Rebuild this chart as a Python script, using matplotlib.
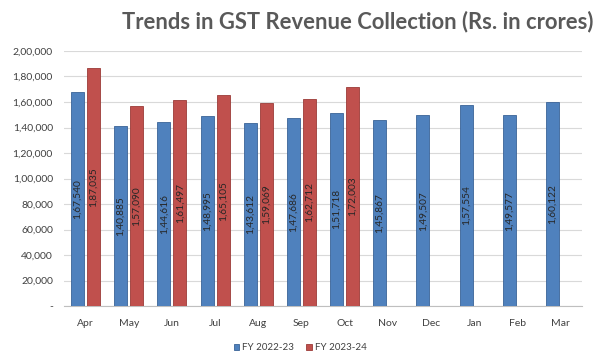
import matplotlib
matplotlib.use("Agg")
import matplotlib.pyplot as plt
import numpy as np

months = ["Apr", "May", "Jun", "Jul", "Aug", "Sep", "Oct", "Nov", "Dec", "Jan", "Feb", "Mar"]
fy2223 = [167540, 140885, 144616, 148995, 143612, 147686, 151718, 145867, 149507, 157554, 149577, 160122]
fy2324 = [187035, 157090, 161497, 165105, 159069, 162712, 172003]
fy2223_labels = ["1,67,540", "1,40,885", "1,44,616", "1,48,995", "1,43,612", "1,47,686", "1,51,718",
                 "1,45,867", "1,49,507", "1,57,554", "1,49,577", "1,60,122"]
fy2324_labels = ["1,87,035", "1,57,090", "1,61,497", "1,65,105", "1,59,069", "1,62,712", "1,72,003"]
yticks = [0, 20000, 40000, 60000, 80000, 100000, 120000, 140000, 160000, 180000, 200000]
ytick_labels = ["-", "20,000", "40,000", "60,000", "80,000", "1,00,000", "1,20,000", "1,40,000",
                "1,60,000", "1,80,000", "2,00,000"]

plt.rcParams['font.family'] = ['Lato', 'DejaVu Sans']

fig = plt.figure(figsize=(5.97, 3.58), dpi=100)
W, H = 597, 358
ax = fig.add_axes([64 / W, 1 - 306 / H, (582 - 64) / W, (306 - 51) / H])

x = np.arange(len(months))
bw = 0.30
off = 0.185
blue = "#4F81BD"
red = "#C0504D"

ax.bar(x - off, fy2223, width=bw, color=blue, edgecolor="#3A6397", linewidth=0.6,
       label="FY 2022-23", zorder=3)
ax.bar(x[:len(fy2324)] + off, fy2324, width=bw, color=red, edgecolor="#9B3B38", linewidth=0.6,
       label="FY 2023-24", zorder=3)

for i, (v, lab) in enumerate(zip(fy2223, fy2223_labels)):
    ax.text(i - off, v / 2, lab, rotation=90, ha="center", va="center", fontsize=7.3,
            color="#262626", zorder=4)
for i, (v, lab) in enumerate(zip(fy2324, fy2324_labels)):
    ax.text(i + off, v / 2, lab, rotation=90, ha="center", va="center", fontsize=7.3,
            color="#262626", zorder=4)

ax.set_xlim(-0.5, len(months) - 0.5)
ax.set_ylim(0, 200000)
ax.set_yticks(yticks)
ax.set_yticklabels(ytick_labels)
ax.set_xticks(x)
ax.set_xticklabels(months)
ax.tick_params(axis="both", length=0, labelsize=7.5, colors="#404040")
ax.tick_params(axis="y", pad=8)
ax.tick_params(axis="x", pad=9)
ax.grid(axis="y", color="#D9D9D9", linewidth=0.8, zorder=0)
for s in ["top", "right", "left"]:
    ax.spines[s].set_visible(False)
ax.spines["bottom"].set_color("#BFBFBF")

fig.text(358 / W, 1 - 22 / H, "Trends in GST Revenue Collection (Rs. in crores)", ha="center",
         va="center", fontsize=15.8, fontweight="bold", color="#595959")

leg = fig.legend(loc="center", bbox_to_anchor=(300 / W, 1 - 348 / H), ncol=2, frameon=False,
                 fontsize=7, handlelength=0.6, handleheight=0.6, handletextpad=0.3,
                 columnspacing=1.2, labelcolor="#404040")

fig.savefig("out.png", dpi=100)
